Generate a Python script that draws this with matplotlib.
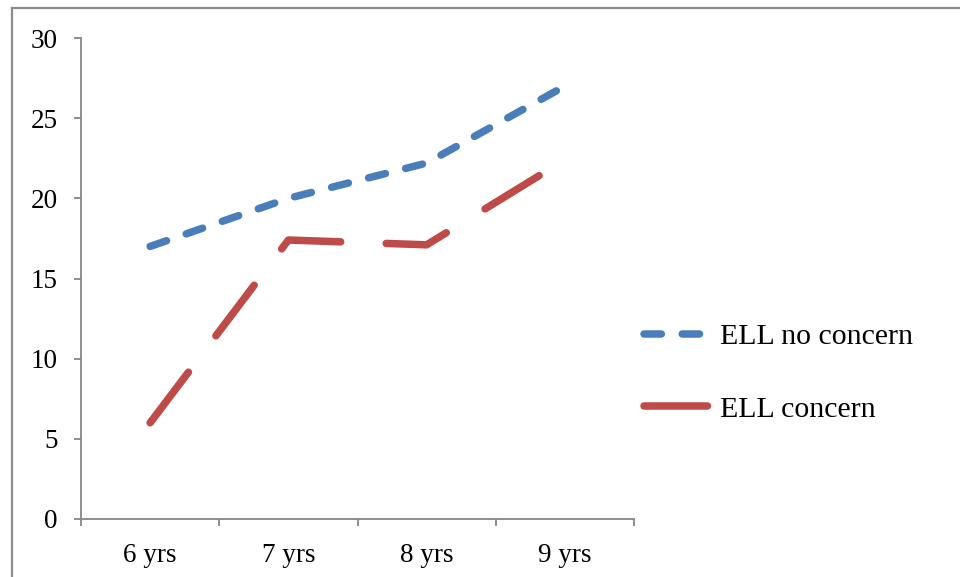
import matplotlib
matplotlib.use("Agg")
import matplotlib.pyplot as plt
from matplotlib.lines import Line2D

# Data
categories = ["6 yrs", "7 yrs", "8 yrs", "9 yrs"]
ell_no_concern = [17.0, 20.0, 22.2, 27.0]
ell_concern = [6.0, 17.4, 17.1, 22.4]
series_names = ["ELL no concern", "ELL concern"]
y_ticks = [0, 5, 10, 15, 20, 25, 30]

BLUE = "#4A7EBB"
RED = "#BE4B48"
AXIS_GREY = "#868686"

plt.rcParams["font.family"] = ["Liberation Serif", "DejaVu Serif"]
plt.rcParams["lines.scale_dashes"] = False

fig = plt.figure(figsize=(9.6, 5.77), dpi=100)
ax = fig.add_axes([81 / 960, 1 - 519 / 577, (634 - 81) / 960, (519 - 38) / 577])

x = list(range(len(categories)))
lw = 5.4
ax.plot(x, ell_no_concern, color=BLUE, lw=lw, dashes=(12.5, 15.0),
        dash_capstyle="round", solid_capstyle="round", label=series_names[0])
ax.plot(x, ell_concern, color=RED, lw=lw, dashes=(45.7, 32.8),
        dash_capstyle="round", solid_capstyle="round", label=series_names[1])

ax.set_xlim(-0.5, len(categories) - 0.5)
ax.set_ylim(0, 30)
ax.set_yticks(y_ticks)
ax.set_yticklabels([str(v) for v in y_ticks])
ax.set_xticks(x)
ax.set_xticklabels(categories)
ax.set_xticks([i - 0.5 for i in range(len(categories) + 1)], minor=True)

for side in ("top", "right"):
    ax.spines[side].set_visible(False)
for side in ("left", "bottom"):
    ax.spines[side].set_color(AXIS_GREY)
    ax.spines[side].set_linewidth(1.3)

ax.tick_params(axis="y", which="major", direction="out", length=5, width=1.3,
               color=AXIS_GREY, labelsize=19.5, pad=12)
ax.tick_params(axis="x", which="major", length=0, labelsize=19.5, pad=17)
ax.tick_params(axis="x", which="minor", direction="out", length=5, width=1.3,
               color=AXIS_GREY)

leg = ax.legend(loc="center left", bbox_to_anchor=(643.5 / 960, 1 - 373 / 577),
                bbox_transform=fig.transFigure, frameon=False, fontsize=21.5,
                handlelength=2.45, handletextpad=0.1, labelspacing=1.53,
                borderpad=0, borderaxespad=0)

# Chart border
border_kw = dict(color="#8C8C8C", lw=1.6, transform=fig.transFigure)
fig.add_artist(Line2D([11.5 / 960, 11.5 / 960], [0, 1 - 8 / 577], **border_kw))
fig.add_artist(Line2D([11.5 / 960, 1], [1 - 8 / 577, 1 - 8 / 577], **border_kw))

fig.savefig("out.png", dpi=100)
